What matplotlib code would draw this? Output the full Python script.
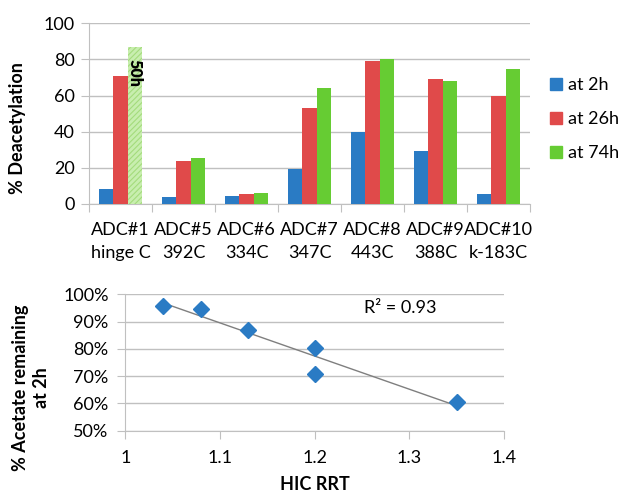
import numpy as np
import matplotlib
matplotlib.use("Agg")
import matplotlib.pyplot as plt
from matplotlib.patches import Patch

plt.rcParams['font.family'] = ['Lato', 'DejaVu Sans']
plt.rcParams['hatch.linewidth'] = 0.8

# top chart data
samples = ["ADC#1\nhinge C", "ADC#5\n392C", "ADC#6\n334C", "ADC#7\n347C",
           "ADC#8\n443C", "ADC#9\n388C", "ADC#10\nk-183C"]
deac_2h = [8.5, 4.0, 4.3, 19.6, 39.6, 29.2, 5.6]
deac_26h = [70.7, 24.0, 5.3, 53.0, 79.4, 69.2, 60.0]
deac_74h = [87.1, 25.3, 6.0, 64.0, 80.2, 68.0, 74.8]
series_names = ["at 2h", "at 26h", "at 74h"]

# bottom chart data
hic_rrt = [1.04, 1.08, 1.13, 1.20, 1.20, 1.35]
acetate_2h = [95.6, 94.5, 87.0, 80.2, 70.8, 60.4]

blue = '#2a7bc4'
red = '#e04a4a'
green = '#66cc33'
grid_c = '#c0c0c0'
fs = 13
W, H = 620, 497

fig = plt.figure(figsize=(6.2, 4.97), dpi=100)

# ---- bar chart ----
ax1 = fig.add_axes([89 / W, 1 - 204 / H, (530 - 89) / W, (204 - 23.3) / H])
x = np.arange(len(samples)) + 0.5
bw = 0.225
ax1.bar(x - bw, deac_2h, bw, color=blue, zorder=3)
ax1.bar(x, deac_26h, bw, color=red, zorder=3)
g = ax1.bar(x + bw, deac_74h, bw, color=green, zorder=3)
# first sample was measured at 50h, drawn pale and hatched
g[0].set_facecolor('#c8eeaf')
g[0].set_edgecolor('#a4dc7c')
g[0].set_hatch('//////')
g[0].set_linewidth(0)
ax1.text(x[0] + bw, 80, "50h", rotation=270, ha='center', va='top',
         fontsize=11.5, fontweight='heavy', zorder=4)

ax1.set_xlim(0, len(samples))
ax1.set_ylim(0, 100)
ax1.set_yticks(range(0, 101, 20))
ax1.set_xticks(np.arange(len(samples) + 1))
ax1.set_xticklabels([])
ax1.set_xticks(x, minor=True)
ax1.set_xticklabels(samples, minor=True, linespacing=1.55)
ax1.tick_params(axis='x', which='minor', length=0, pad=13, labelsize=fs)
ax1.tick_params(axis='x', which='major', length=6, color=grid_c)
ax1.tick_params(axis='y', length=6, color=grid_c, pad=4, labelsize=fs)
ax1.grid(axis='y', color=grid_c, lw=1, zorder=0)
for s in ['top', 'right']:
    ax1.spines[s].set_visible(False)
for s in ['left', 'bottom']:
    ax1.spines[s].set_color(grid_c)
handles = [Patch(color=c) for c in (blue, red, green)]
ax1.legend(handles, series_names, loc='center left', bbox_to_anchor=(1.03, 0.47),
           frameon=False, fontsize=fs, handlelength=0.65, handleheight=0.65,
           handletextpad=0.3, labelspacing=1.0, borderaxespad=0)
fig.text(18 / W, 1 - 128 / H, "% Deacetylation", rotation=90, ha='center',
         va='center', fontsize=fs, fontweight='bold')

# ---- scatter with trend line ----
ax2 = fig.add_axes([125.3 / W, 1 - 430.7 / H, (504 - 125.3) / W, (430.7 - 294.3) / H])
ax2.plot(hic_rrt, acetate_2h, 'D', color=blue, markersize=8, zorder=3)
k, b = np.polyfit(hic_rrt, acetate_2h, 1)
xs = np.array([min(hic_rrt), max(hic_rrt)])
ax2.plot(xs, k * xs + b, color='#7f7f7f', lw=1, zorder=2)
ax2.text(1.29, 95, "R² = 0.93", ha='center', va='center', fontsize=fs)

ax2.set_xlim(1, 1.4)
ax2.set_ylim(50, 100)
ax2.set_xticks([1, 1.1, 1.2, 1.3, 1.4])
ax2.set_xticklabels(["1", "1.1", "1.2", "1.3", "1.4"])
ax2.set_yticks(range(50, 101, 10))
ax2.set_yticklabels([f"{v}%" for v in range(50, 101, 10)])
ax2.tick_params(axis='x', length=6, color=grid_c, pad=8, labelsize=fs)
ax2.tick_params(axis='y', length=6, color=grid_c, pad=6, labelsize=fs)
ax2.grid(axis='y', color=grid_c, lw=1, zorder=0)
for s in ['top', 'right']:
    ax2.spines[s].set_visible(False)
for s in ['left', 'bottom']:
    ax2.spines[s].set_color(grid_c)
ax2.set_xlabel("HIC RRT", fontsize=fs, fontweight='bold', labelpad=7)
fig.text(31 / W, 1 - 388 / H, "% Acetate remaining\nat 2h", rotation=90,
         ha='center', va='center', fontsize=fs, fontweight='bold',
         linespacing=1.3)

fig.savefig("out.png", dpi=100)
